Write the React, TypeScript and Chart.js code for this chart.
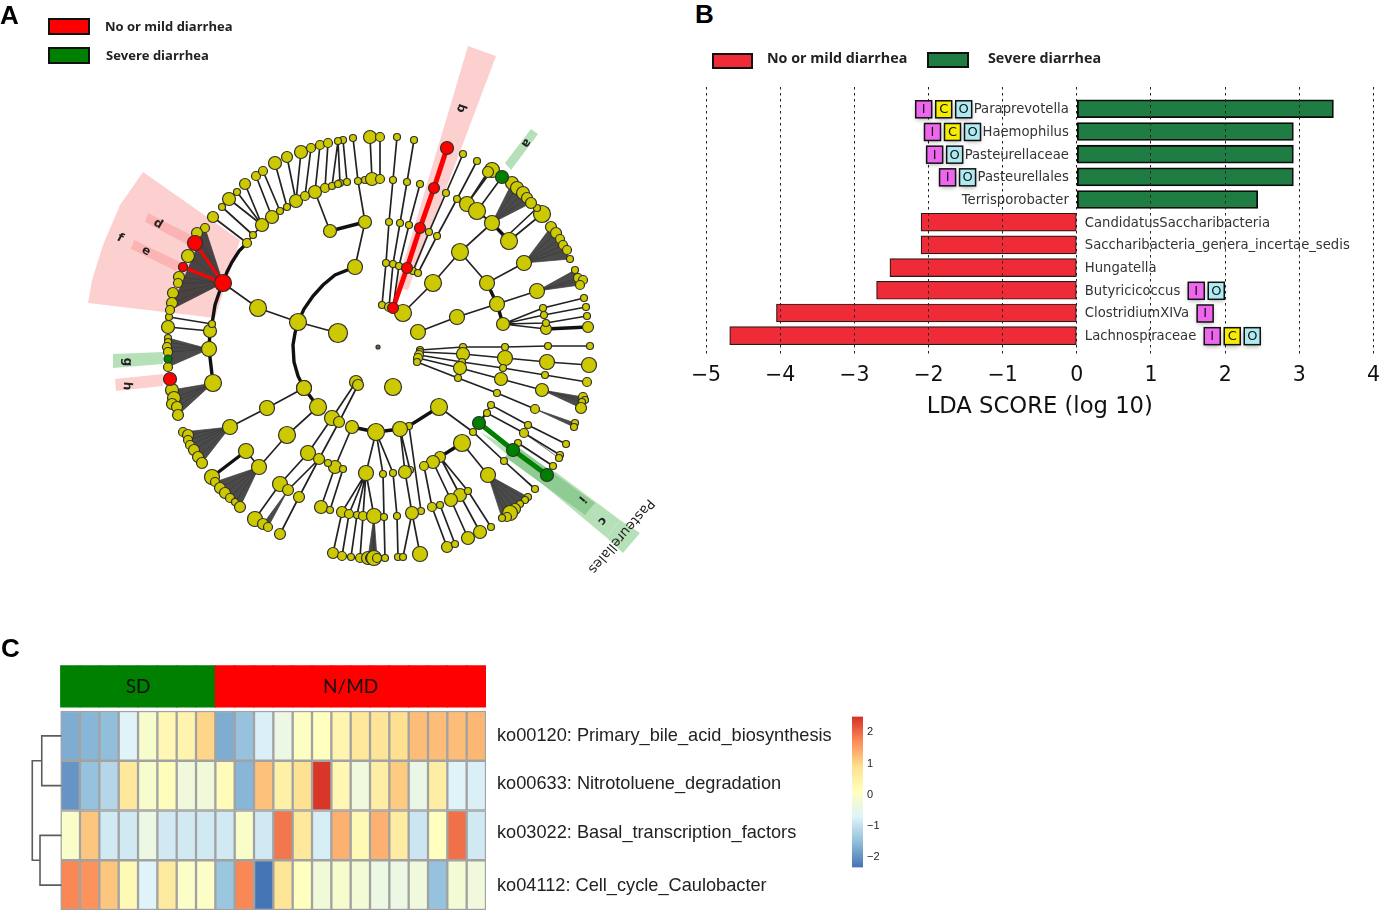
import React, { useEffect, useRef } from "react";
import { Chart, registerables } from "chart.js";

Chart.register(...registerables);

/* ---------- Panel A: cladogram (x, y, radius triples; radius 0 = no marker) ---------- */
const cladeThin: number[][] = [
  [298,322,8, 258,308,8, 223,283,0],
  [298,322,0, 338,333,9],
  [304,388,7, 267,408,7, 230,427,7],
  [318,407,8, 287,435,8, 259,467,7],
  [259,467,0, 246,451,7],
  [332,418,7, 308,453,7, 280,484,7, 255,519,7],
  [339,422,5, 319,459,5, 299,497,5, 280,534,5],
  [356,382,6, 332,418,0], [358,385,5, 339,422,0],
  [319,459,0, 288,490,5],
  [352,427,6, 335,467,6, 321,507,6], [328,463,3, 335,467,0], [335,467,0, 343,469,3, 330,510,3],
  [376,432,8, 366,473,7, 342,512,5, 333,553,5],
  [366,473,0, 349,514,4, 342,556,4], [366,473,0, 357,515,3, 351,557,3],
  [366,473,0, 363,516,4, 360,558,4], [366,473,0, 374,516,7],
  [376,432,0, 383,474,3, 384,517,3, 385,558,3],
  [376,432,0, 393,473,3, 397,516,3, 398,557,3],
  [409,426,3, 421,511,3], [400,429,7, 410,470,3],
  [400,429,0, 405,472,6, 412,513,6, 420,554,7], [412,513,0, 403,557,3],
  [440,457,5, 460,495,6, 480,532,6], [433,462,6, 451,500,6, 468,538,6],
  [424,466,4, 432,507,4, 447,547,5], [440,505,3, 455,544,3], [440,457,0, 468,491,3, 491,527,3],
  [439,407,8, 473,432,3, 504,461,3, 535,489,3],
  [462,443,8, 488,475,7],
  [479,423,0, 487,413,3, 524,433,4, 560,455,3],
  [479,423,0, 491,405,3, 528,425,3, 566,444,3],
  [513,450,0, 518,443,3, 553,466,3],
  [403,313,8, 433,283,8, 460,252,8, 492,223,7],
  [382,305,3, 386,263,3, 389,222,3, 393,180,3, 397,137,3],
  [389,307,4, 393,264,3, 400,223,3, 407,182,3, 414,140,3],
  [393,308,0, 399,266,3, 409,225,3, 420,184,3],
  [413,271,3, 429,232,3, 446,193,3, 463,154,3],
  [418,273,3, 437,236,3, 457,199,3, 477,161,3],
  [492,223,0, 467,204,7, 492,170,7], [467,204,0, 488,172,5],
  [492,223,0, 477,211,8, 502,177,0],
  [509,241,8, 542,214,8], [505,238,0, 537,208,3],
  [460,252,0, 487,283,7, 524,263,7],
  [497,304,7, 537,291,7],
  [418,332,7, 457,317,7, 497,304,0],
  [503,324,6, 546,329,5],
  [503,324,0, 543,308,3, 584,298,3], [503,324,0, 544,315,3, 586,307,3],
  [503,324,0, 546,323,3, 587,316,3],
  [420,350,3, 463,347,3, 505,347,3, 548,346,3, 590,346,3],
  [420,352,3, 463,354,6, 505,358,7, 547,362,7, 589,365,7],
  [419,355,4, 462,362,3, 503,368,3, 545,375,3, 587,382,4],
  [418,358,4, 460,368,6, 501,379,6, 542,390,6],
  [417,362,3, 458,378,3, 497,393,3, 535,409,4],
  [365,222,6, 355,267,7],
  [365,222,0, 358,181,3, 353,138,3], [365,180,3, 372,179,6, 370,137,6], [380,179,4, 380,137,4],
  [347,182,3, 343,140,3], [340,183,3, 338,141,3],
  [330,231,6, 315,192,6],
  [247,243,4, 253,235,3, 262,225,6, 272,217,6, 280,211,3, 287,207,3, 296,201,6, 305,196,4, 315,192,0, 325,188,4, 332,186,3, 338,184,3, 347,182,0],
  [247,243,0, 213,217,5], [253,235,0, 222,207,3], [262,225,0, 229,199,6], [262,225,0, 237,192,3], [262,225,0, 245,184,5],
  [272,217,0, 256,176,4], [280,211,0, 263,171,4], [287,207,0, 275,163,6], [296,201,0, 287,157,5], [296,201,0, 301,152,6],
  [305,196,0, 311,148,4], [315,192,0, 320,145,4], [325,188,0, 328,143,4], [332,186,0, 338,141,0],
  [210,331,6, 168,327,6], [212,324,3, 169,317,3],
];
const cladeThick: number[][] = [
  [304,388,0, 298,376,0, 294,362,0, 293,345,0, 295,333,0, 298,322,0, 304,309,0, 313,296,0, 323,285,0, 335,275,0, 355,267,0],
  [304,388,7, 318,407,0],
  [247,243,0, 239,251,0, 232,262,0, 227,272,0, 223,283,0, 219,293,0, 215,305,0, 212,324,0, 210,331,0, 209,349,7, 213,383,8],
  [365,222,0, 330,231,0],
  [246,451,0, 212,477,7],
  [376,432,0, 352,427,0], [376,432,0, 400,429,0, 409,426,0, 439,407,0],
  [462,443,0, 440,457,0],
  [487,283,0, 497,304,0, 503,324,0],
  [546,329,0, 588,327,5],
  [492,223,0, 509,241,0],
];
const cladeRed: number[][] = [[393,308,5, 407,268,5, 420,228,5, 434,188,5, 447,148,6]];
const cladeRedSpokes: number[][] = [[223,283,8, 195,243,7], [223,283,0, 183,267,4]];
const cladeGreen: number[][] = [[479,423,6, 513,450,6, 547,475,6]];
const cladeGreenNodes: number[][] = [[502,177,6]];
/* fans: hub x, hub y, then leaf triples */
const cladeFans: number[][] = [
  [230,427, 183,432,4, 188,435,5, 188,440,4, 190,445,4, 194,450,5, 198,457,5, 202,463,5],
  [259,467, 215,482,4, 220,488,5, 225,493,5, 230,498,4, 235,502,3, 240,507,5],
  [213,383, 172,390,6, 174,398,6, 172,404,5, 177,407,5, 178,415,5],
  [209,349, 168,338,3, 168,342,3, 167,347,4, 168,352,4, 168,367,4],
  [223,283, 205,228,4, 197,233,5, 188,256,6, 179,277,5, 178,283,4, 173,293,5, 172,303,5, 170,310,4],
  [492,223, 512,183,6, 517,188,6, 523,193,6, 527,198,5, 531,203,5],
  [524,263, 551,227,5, 556,233,5, 560,239,4, 563,245,4, 567,250,4, 570,259,3],
  [537,291, 575,270,3, 578,278,4, 583,280,4, 580,285,4],
  [488,475, 528,497,3, 525,500,3, 520,504,3, 515,509,5, 510,513,7, 507,517,4, 502,518,3],
  [542,390, 583,397,4, 585,400,3, 582,402,3, 581,408,5],
  [535,409, 575,423,3, 574,427,3],
  [524,433, 559,458,3],
  [288,490, 263,524,5, 268,527,4],
  [374,516, 368,558,6, 371,558,5, 374,558,7, 377,558,4],
];
const cladeRedLeaves: number[][] = [[170,379,6], [183,267,4]];
const cladeGreenLeaves: number[][] = [[168,359,3.5]];
const rootNodes: number[][] = [[378,347,1.5], [393,387,8]];
const wedgePink: number[][] = [
  [143,172, 240,240, 215,318, 88,303, 92,280, 103,245, 120,205],
  [468,46, 496,56, 408,290, 396,288],
  [163,374, 115,379, 116,391, 163,386],
];
const wedgePinkDark: number[][] = [
  [148,213, 193,236, 188,245, 145,222],
  [134,240, 180,262, 176,271, 131,249],
];
const wedgeGreen: number[][] = [
  [480,432, 607,538, 620,520, 557,473],
  [607,538, 623,553, 640,533, 620,520],
  [505,163, 531,129, 538,134, 511,170],
  [113,354, 163,352, 163,364, 113,368],
];
const wedgeGreenDark: number[][] = [[505,457, 585,515, 595,503, 515,445]];
const cladeLetters: [string, number, number, number][] = [
  ["a",526,143,125], ["b",461,108,110], ["d",158,224,30], ["f",120,238,30], ["e",146,251,30],
  ["g",127,362,90], ["h",127,386,95], ["i",582,499,130], ["c",602,521,130],
];
const cladeTitle = "Pasteurellales";
const legendNames = ["No or mild diarrhea", "Severe diarrhea"];

/* ---------- Panel B: LDA ---------- */
const ldaTaxa = ["Paraprevotella","Haemophilus","Pasteurellaceae","Pasteurellales","Terrisporobacter","CandidatusSaccharibacteria","Saccharibacteria_genera_incertae_sedis","Hungatella","Butyricicoccus","ClostridiumXIVa","Lachnospiraceae"];
const ldaScores = [3.46,2.92,2.92,2.92,2.44,-2.1,-2.1,-2.52,-2.7,-4.05,-4.68];
const ldaBadges = ["ICO","ICO","IO","IO","","","","","IO","I","ICO"];

/* ---------- Panel C: heat map ---------- */
const pathways = ["ko00120: Primary_bile_acid_biosynthesis","ko00633: Nitrotoluene_degradation","ko03022: Basal_transcription_factors","ko04112: Cell_cycle_Caulobacter"];
const labelRowY = [0.01, 0.97, 1.96, 3.02];
const heatRow1 = [-1.7,-1.6,-1.5,-0.7,-0.1,0.3,0.4,1.0,-1.7,-1.45,-0.75,-0.4,0.05,0.1,0.35,0.7,0.8,0.9,1.25,1.25,1.25,1.3];
const heatRow2 = [-1.95,-1.45,-1.15,0.7,-0.1,0.15,-0.3,-0.25,0.2,-1.6,1.2,0.5,0.85,2.45,0.3,-0.3,0.55,1.1,-0.45,0.55,-0.7,-0.75];
const heatRow3 = [-0.05,1.15,-0.85,-0.85,-0.4,-0.85,-0.85,-0.85,-0.85,-0.05,-0.85,1.9,0.7,-0.8,1.35,0.25,1.35,0.6,-0.9,0.1,1.95,-0.85];
const heatRow4 = [1.75,1.65,1.15,0.25,-0.7,0.65,0,0,-1.4,1.75,-2.3,0.75,0.1,-0.25,-0.1,-0.2,-0.4,-0.4,-0.3,-1.45,-0.2,-0.3];
const heatRows = [heatRow1, heatRow2, heatRow3, heatRow4];
const groupNames = ["SD","SD","SD","SD","SD","SD","SD","SD","N/MD","N/MD","N/MD","N/MD","N/MD","N/MD","N/MD","N/MD","N/MD","N/MD","N/MD","N/MD","N/MD","N/MD"];
const dendrogram: number[][] = [[-0.5,0.5,-1.48,0.5,-1.48,1.5,-0.5,1.5],[-0.5,2.5,-1.57,2.5,-1.57,3.5,-0.5,3.5],[-1.48,1,-1.97,1,-1.97,3,-1.57,3]];
const heatStops: [number, number[]][] = [
  [-2.3,[69,117,180]],[-1.5,[145,191,219]],[-0.7,[224,243,248]],[0.1,[255,255,191]],[0.9,[254,224,144]],[1.7,[252,141,89]],[2.5,[215,48,39]],
];

const RED = "#ff0000";
const GREEN = "#008000";
const YELLOW = "#cdc900";
const OUTLINE = "#30302a";
const NaNPoint = { x: NaN, y: NaN };
const SOFTEN = "blur(0.4px)";

function heatColor(v: number): string {
  for (let i = 1; i < heatStops.length; i++) {
    if (v <= heatStops[i][0]) {
      const [a, ca] = heatStops[i - 1];
      const [b, cb] = heatStops[i];
      const t = Math.max(0, (v - a) / (b - a));
      return `rgb(${ca.map((c, k) => Math.round(c + (cb[k] - c) * t)).join(",")})`;
    }
  }
  return "rgb(215,48,39)";
}

function chainPoints(chains: number[][]) {
  const out: { x: number; y: number }[] = [];
  chains.forEach((c) => {
    for (let i = 0; i < c.length; i += 3) out.push({ x: c[i], y: c[i + 1] });
    out.push(NaNPoint);
  });
  return out;
}
function markers(chains: number[][], color: string) {
  const out: { x: number; y: number; r: number; c: string }[] = [];
  chains.forEach((c) => {
    for (let i = 0; i < c.length; i += 3) if (c[i + 2] > 0) out.push({ x: c[i], y: c[i + 1], r: c[i + 2] + 0.5, c: color });
  });
  return out;
}
function polygon(p: number[]) {
  const pts: { x: number; y: number }[] = [];
  for (let i = 0; i < p.length; i += 2) pts.push({ x: p[i], y: p[i + 1] });
  pts.push(pts[0]);
  return pts;
}
function lineSet(data: any[], color: string, width: number, order: number) {
  return { type: "scatter", data, showLine: true, borderColor: color, borderWidth: width, pointRadius: 0, order, spanGaps: false, borderCapStyle: "round", fill: false };
}
function polySet(p: number[], color: string, order: number) {
  return { type: "scatter", data: polygon(p), showLine: true, borderWidth: 0, borderColor: "transparent", backgroundColor: color, fill: "shape", pointRadius: 0, order };
}
function txt(ctx: CanvasRenderingContext2D, s: string, x: number, y: number, font: string, color: string, align: CanvasTextAlign = "left", rot = 0) {
  ctx.save();
  ctx.translate(x, y);
  ctx.rotate((rot * Math.PI) / 180);
  ctx.font = font;
  ctx.fillStyle = color;
  ctx.textAlign = align;
  ctx.textBaseline = "middle";
  ctx.fillText(s, 0, 0);
  ctx.restore();
}
function box(ctx: CanvasRenderingContext2D, x: number, y: number, w: number, h: number, fill: string, lw = 2) {
  ctx.save();
  ctx.fillStyle = fill;
  ctx.strokeStyle = "#111";
  ctx.lineWidth = lw;
  ctx.fillRect(x, y, w, h);
  ctx.strokeRect(x, y, w, h);
  ctx.restore();
}
const LEGEND_FONT = (s: number) => `bold ${s}px "Open Sans"`;

function buildCladogram(canvas: HTMLCanvasElement) {
  const fanLeaves = cladeFans.map((f) => f.slice(2));
  const fanLines: any[] = [];
  const fanPolys: any[] = [];
  cladeFans.forEach((f, i) => {
    const hub = { x: f[0], y: f[1] };
    const l = fanLeaves[i];
    for (let k = 0; k < l.length; k += 3) fanLines.push(hub, { x: l[k], y: l[k + 1] }, NaNPoint);
    if (l.length >= 6) fanPolys.push(polySet([f[0], f[1], l[0], l[1], l[l.length - 3], l[l.length - 2]], "rgba(35,35,35,0.82)", 6));
  });
  const nodes = [
    ...markers(cladeThin, YELLOW), ...markers(cladeThick, YELLOW),
    ...markers(fanLeaves, YELLOW), ...markers([rootNodes[1]], YELLOW),
    ...markers(cladeRed, RED), ...markers(cladeRedSpokes, RED), ...markers(cladeRedLeaves, RED),
    ...markers(cladeGreen, GREEN), ...markers(cladeGreenNodes, GREEN), ...markers(cladeGreenLeaves, GREEN),
    ...markers([rootNodes[0]], "#556b2f"),
  ];
  return new Chart(canvas, {
    type: "scatter",
    data: {
      datasets: [
        ...wedgePink.map((p) => polySet(p, "#fdd0d0", 10)),
        ...wedgePinkDark.map((p) => polySet(p, "#fbb4b4", 9)),
        ...wedgeGreen.map((p) => polySet(p, "#b6e0b8", 10)),
        ...wedgeGreenDark.map((p) => polySet(p, "#8fcc94", 9)),
        ...fanPolys,
        lineSet(fanLines, "#3a3a3a", 0.7, 5),
        lineSet(chainPoints(cladeThin), "#222", 1.7, 4),
        lineSet(chainPoints(cladeThick), "#111", 3.4, 3),
        lineSet(chainPoints(cladeRed), RED, 5, 2),
        lineSet(chainPoints(cladeRedSpokes), RED, 3, 2),
        lineSet(chainPoints(cladeGreen), GREEN, 5, 2),
        {
          type: "scatter",
          data: nodes,
          order: 1,
          showLine: false,
          pointRadius: nodes.map((n) => n.r),
          pointBackgroundColor: nodes.map((n) => n.c),
          pointBorderColor: OUTLINE,
          pointBorderWidth: 1.2,
        },
      ] as any,
    },
    options: {
      animation: false,
      responsive: false,
      layout: { padding: 0, autoPadding: false },
      plugins: { legend: { display: false }, tooltip: { enabled: false } },
      scales: {
        x: { type: "linear", min: 0, max: 690, display: false },
        y: { type: "linear", min: 0, max: 620, reverse: true, display: false },
      },
    },
    plugins: [
      {
        id: "cladeText",
        afterDraw(c: any) {
          const { ctx, scales } = c;
          const X = (v: number) => scales.x.getPixelForValue(v);
          const Y = (v: number) => scales.y.getPixelForValue(v);
          cladeLetters.forEach(([s, x, y, r]) => txt(ctx, s, X(x), Y(y), 'bold 12px "DejaVu Sans"', "#222", "center", r));
          txt(ctx, cladeTitle, X(621), Y(536), '13.5px "DejaVu Sans"', "#222", "center", 130.8);
          box(ctx, 49, 19, 40, 15, RED);
          box(ctx, 49, 48, 40, 15, GREEN);
          txt(ctx, legendNames[0], 105, 27, LEGEND_FONT(13), "#222");
          txt(ctx, legendNames[1], 106, 56, LEGEND_FONT(13), "#222");
        },
      },
    ],
  } as any);
}

const BADGE_COLORS: Record<string, string> = { I: "#ee66ee", C: "#f5ec00", O: "#aeeaf2" };

function buildLda(canvas: HTMLCanvasElement) {
  return new Chart(canvas, {
    type: "bar",
    data: {
      datasets: [
        {
          data: ldaScores.map((v, i) => ({ x: v, y: i })),
          backgroundColor: ldaScores.map((v) => (v > 0 ? "#1f7d43" : "#ee2b36")),
          borderColor: ldaScores.map((v) => (v > 0 ? "#0c0c0c" : "#2a1a1a")),
          borderWidth: ldaScores.map((v) => (v > 0 ? 1.8 : 1.2)),
          borderSkipped: false,
          barThickness: 18,
        },
      ],
    },
    options: {
      animation: false,
      responsive: false,
      indexAxis: "y",
      layout: { padding: { left: 26, right: 4.3, top: 47, bottom: 0 }, autoPadding: false },
      plugins: { legend: { display: false }, tooltip: { enabled: false } },
      scales: {
        y: { type: "linear", min: -0.96, max: 10.94, reverse: true, display: false, offset: false },
        x: {
          type: "linear",
          min: -5,
          max: 4,
          offset: false,
          afterFit(s: any) { s.height = 73; },
          border: { display: false, dash: [2.5, 3.5] },
          grid: { z: 1, color: "#222", lineWidth: 1, drawTicks: false },
          ticks: {
            stepSize: 1,
            maxRotation: 0,
            padding: 6,
            color: "#111",
            font: { family: '"DejaVu Sans"', size: 20.5 },
            callback: (v: any) => String(v).replace("-", "\u2212"),
          },
          title: { display: true, text: "LDA SCORE (log 10)", color: "#111", font: { family: '"DejaVu Sans"', size: 22.7 }, padding: { top: 0, bottom: 9 } },
        },
      },
    },
    plugins: [
      {
        id: "ldaText",
        afterDraw(c: any) {
          const { ctx, scales } = c;
          const x0 = scales.x.getPixelForValue(0);
          const font = '13.2px "DejaVu Sans"';
          ldaTaxa.forEach((name, i) => {
            const y = scales.y.getPixelForValue(i);
            const pos = ldaScores[i] > 0;
            txt(ctx, name, pos ? x0 - 8 : x0 + 8, y + 1, font, "#333", pos ? "right" : "left");
            ctx.font = font;
            const w = ctx.measureText(name).width;
            const badges = ldaBadges[i].split("").filter(Boolean);
            badges.forEach((b, k) => {
              const bx = pos ? x0 - 8 - w - 2 - (badges.length - k) * 20 + 4 : x0 + 8 + w + 8 + k * 20;
              ctx.save();
              ctx.shadowColor = "rgba(0,0,0,0.35)";
              ctx.shadowBlur = 5;
              ctx.shadowOffsetY = 2;
              ctx.fillStyle = BADGE_COLORS[b];
              ctx.fillRect(bx, y - 8, 16, 17);
              ctx.restore();
              box(ctx, bx, y - 8, 16, 17, BADGE_COLORS[b], 1.5);
              txt(ctx, b, bx + 8, y + 1, '13px "DejaVu Sans"', "#111", "center");
            });
          });
          const ox = 680 , oy = 40;
          box(ctx, 712 - ox + 1, 54 - oy, 39, 14, "#ee2b36");
          box(ctx, 928 - ox, 53 - oy, 40, 14, "#1f7d43");
          txt(ctx, legendNames[0], 767 - ox, 59 - oy, LEGEND_FONT(14.3), "#222");
          txt(ctx, legendNames[1], 988 - ox, 58.5 - oy, LEGEND_FONT(14.3), "#222");
        },
      },
    ],
  } as any);
}

function buildHeat(canvas: HTMLCanvasElement) {
  const rowSets = heatRows.map((row, r) => ({
    type: "bar",
    data: row.map((v, i) => ({ x: i, y: [r, r + 1], v })),
    backgroundColor: row.map((v) => heatColor(v)),
    borderColor: "#a2a2a2",
    borderWidth: 1.5,
    borderSkipped: false,
    barPercentage: 1,
    categoryPercentage: 1,
    grouped: false,
    order: 3,
  }));
  const headerColors = groupNames.map((g) => (g === "SD" ? GREEN : RED));
  const headerSet = {
    type: "bar",
    data: groupNames.map((_, i) => ({ x: i, y: [-0.92, -0.07] })),
    backgroundColor: headerColors,
    borderWidth: 0,
    barPercentage: 1.06,
    categoryPercentage: 1,
    grouped: false,
    order: 3,
  };
  const dendroSet = lineSet(
    dendrogram.flatMap((d) => {
      const pts: any[] = [];
      for (let i = 0; i < d.length; i += 2) pts.push({ x: d[i], y: d[i + 1] });
      pts.push(NaNPoint);
      return pts;
    }),
    "#5c5c5c",
    1.6,
    1
  );
  return new Chart(canvas, {
    type: "bar",
    data: { datasets: [...rowSets, headerSet, dendroSet] as any },
    options: {
      animation: false,
      responsive: false,
      layout: { padding: { left: 30, right: 359, top: 10, bottom: 2 }, autoPadding: false },
      plugins: { legend: { display: false }, tooltip: { enabled: false } },
      scales: {
        x: { type: "linear", min: -2.088, max: 21.5, display: false, offset: false },
        y: { type: "linear", min: -0.925, max: 4, reverse: true, display: false },
      },
    },
    plugins: [
      {
        id: "heatText",
        afterDraw(c: any) {
          const { ctx, scales } = c;
          const X = (v: number) => scales.x.getPixelForValue(v);
          const Y = (v: number) => scales.y.getPixelForValue(v);
          const sd = groupNames.filter((g) => g === "SD").length;
          txt(ctx, "SD", (X(-0.5) + X(sd - 0.5)) / 2, Y(-0.49), '19px Lato', "#111", "center");
          txt(ctx, "N/MD", (X(sd - 0.5) + X(21.5)) / 2, Y(-0.49), '19px Lato', "#111", "center");
          pathways.forEach((p, i) => txt(ctx, p, 497, Y(labelRowY[i] + 0.5), '18.2px "Liberation Sans"', "#222"));
        },
      },
    ],
  } as any);
}

function buildColorbar(canvas: HTMLCanvasElement) {
  return new Chart(canvas, {
    type: "bar",
    data: {
      labels: ["scale"],
      datasets: [
        {
          data: [[-2.32, 2.5]],
          backgroundColor: (ctx: any) => {
            const { chart } = ctx;
            const area = chart.chartArea;
            if (!area) return "#91bfdb";
            const g = chart.ctx.createLinearGradient(0, area.top, 0, area.bottom);
            heatStops.slice().reverse().forEach(([v, col]) => {
              const t = (2.5 - v) / 4.82;
              g.addColorStop(Math.min(1, t), `rgb(${col.join(",")})`);
            });
            return g;
          },
          barPercentage: 1,
          categoryPercentage: 1,
        },
      ],
    },
    options: {
      animation: false,
      responsive: false,
      layout: { padding: { left: 7, right: 0, top: 10, bottom: 10 }, autoPadding: false },
      plugins: { legend: { display: false }, tooltip: { enabled: false } },
      scales: {
        x: { display: false },
        y: {
          position: "right",
          min: -2.32,
          max: 2.5,
          afterFit(s: any) { s.width = 30; },
          border: { display: false },
          grid: { display: false, drawTicks: false },
          ticks: {
            stepSize: 1,
            includeBounds: false,
            padding: 4,
            color: "#222",
            font: { family: '"Liberation Sans"', size: 11 },
            callback: (v: any) => String(v).replace("-", "\u2212"),
          },
        },
      },
    },
  } as any);
}

const abs = (left: number, top: number): React.CSSProperties => ({ position: "absolute", left, top, display: "block", filter: SOFTEN });
const panelLetter = (left: number, top: number): React.CSSProperties => ({
  position: "absolute", left, top, font: 'bold 26px "Liberation Sans"', color: "#000", lineHeight: "26px",
});

export default function App() {
  const a = useRef<HTMLCanvasElement>(null);
  const b = useRef<HTMLCanvasElement>(null);
  const c = useRef<HTMLCanvasElement>(null);
  const d = useRef<HTMLCanvasElement>(null);
  useEffect(() => {
    const charts = [buildCladogram(a.current!), buildLda(b.current!), buildHeat(c.current!), buildColorbar(d.current!)];
    return () => charts.forEach((x) => x.destroy());
  }, []);
  return (
    <div style={{ position: "absolute", left: 0, top: 0, width: 1381, height: 912, overflow: "hidden", background: "#fff" }}>
      <canvas ref={a} width={690} height={620} style={abs(0, 0)} />
      <canvas ref={b} width={706} height={390} style={abs(680, 40)} />
      <canvas ref={c} width={845} height={257} style={abs(0, 655)} />
      <canvas ref={d} width={48} height={172} style={abs(845, 706)} />
      <div style={panelLetter(0, 2)}>A</div>
      <div style={panelLetter(695, 1)}>B</div>
      <div style={panelLetter(1, 635)}>C</div>
    </div>
  );
}
